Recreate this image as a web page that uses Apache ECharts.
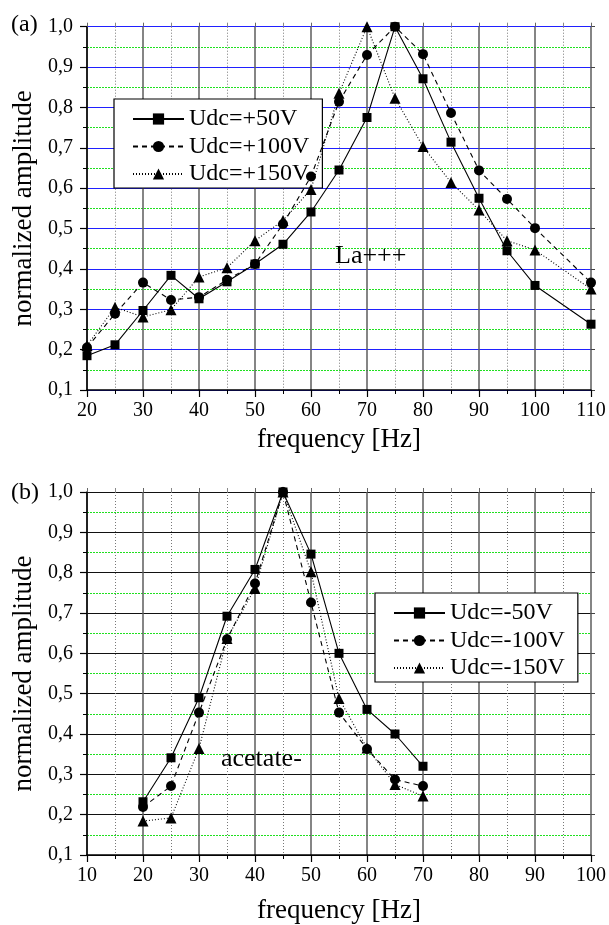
<!DOCTYPE html>
<html><head><meta charset="utf-8">
<script src="https://cdn.jsdelivr.net/npm/echarts@6/dist/echarts.min.js"></script>
<style>html,body{margin:0;padding:0;background:#fff}#c{width:609px;height:925px}</style>
</head><body><div id="c"></div>
<script>
// ---- Data: panel (a) La+++ ----
const freqA = [20,25,30,35,40,45,50,55,60,65,70,75,80,85,90,95,100,110];
const udcP50  = [0.185,0.212,0.297,0.384,0.326,0.368,0.412,0.461,0.541,0.645,0.775,1.0,0.871,0.714,0.575,0.445,0.359,0.263];
const udcP100 = [0.205,0.289,0.366,0.323,0.330,0.373,0.412,0.511,0.629,0.814,0.930,1.0,0.932,0.786,0.644,0.573,0.501,0.366];
const udcP150 = [0.210,0.305,0.281,0.299,0.380,0.403,0.470,0.520,0.597,0.835,1.0,0.823,0.703,0.614,0.546,0.470,0.447,0.350];
// ---- Data: panel (b) acetate- ----
const freqB = [20,25,30,35,40,45,50,55,60,65,70];
const udcM50  = [0.232,0.341,0.490,0.692,0.808,1.0,0.846,0.600,0.461,0.400,0.320];
const udcM100 = [0.219,0.271,0.453,0.635,0.773,1.0,0.726,0.453,0.363,0.287,0.271];
const udcM150 = [0.184,0.192,0.364,0.637,0.761,1.0,0.802,0.488,0.365,0.275,0.246];
const namesA = ['Udc=+50V','Udc=+100V','Udc=+150V'];
const namesB = ['Udc=-50V','Udc=-100V','Udc=-150V'];
const xRangeA = [20,110];
const xRangeB = [10,100];
const yRange = [0.1,1.0];

const FONT = 'Liberation Serif';
const pair = (xs, ys) => xs.map((x,i)=>[x, ys[i]]);
const styles = [
  {symbol:'rect', symbolSize:9, type:'solid'},
  {symbol:'circle', symbolSize:10, type:[5,4]},
  {symbol:'triangle', symbolSize:11, type:[1,2]}
];
function mkSeries(name, xs, ys, k, idx){
  const s = styles[k];
  return {
    name, type:'line', xAxisIndex:idx, yAxisIndex:idx, data:pair(xs,ys),
    symbol:s.symbol, symbolSize:s.symbolSize, showSymbol:true,
    itemStyle:{color:'#000'}, lineStyle:{color:'#000', width:1.1, type:s.type},
    animation:false, z:5
  };
}
function xAxisBottom(idx, range, nameGap){
  return {
    type:'value', gridIndex:idx, position:'bottom', min:range[0], max:range[1], interval:10,
    name:'frequency [Hz]', nameLocation:'middle', nameGap:nameGap,
    nameTextStyle:{fontFamily:FONT, fontSize:27, color:'#000'},
    axisLine:{show:true, onZero:false, lineStyle:{color:'#000', width:1.5}},
    axisTick:{show:true, inside:false, length:7, lineStyle:{color:'#000', width:1.2}},
    minorTick:{show:true, splitNumber:2, length:4, lineStyle:{color:'#000'}},
    axisLabel:{fontFamily:FONT, fontSize:20, color:'#000', margin:11},
    splitLine:{show:true, lineStyle:{color:'#5c5c5c', width:1.5}},
    minorSplitLine:{show:true, lineStyle:{color:'#777', width:1, type:[1,2]}}
  };
}
function xAxisTop(idx, range){
  return {
    type:'value', gridIndex:idx, position:'top', min:range[0], max:range[1], interval:10,
    axisLine:{show:false}, axisLabel:{show:false},
    axisTick:{show:true, inside:false, length:4, lineStyle:{color:'#666'}},
    minorTick:{show:true, splitNumber:2, length:4, lineStyle:{color:'#888'}},
    splitLine:{show:false}
  };
}
function yAxisLeft(idx, majorColor){
  return {
    type:'value', gridIndex:idx, position:'left', min:yRange[0], max:yRange[1], interval:0.1,
    name:'normalized amplitude', nameLocation:'middle', nameGap:47, nameRotate:90,
    nameTextStyle:{fontFamily:FONT, fontSize:27, color:'#000'},
    axisLine:{show:true, onZero:false, lineStyle:{color:'#000', width:1.5}},
    axisTick:{show:true, inside:false, length:7, lineStyle:{color:'#000', width:1.2}},
    minorTick:{show:true, splitNumber:2, length:4, lineStyle:{color:'#000'}},
    axisLabel:{fontFamily:FONT, fontSize:20, color:'#000', margin:14,
      formatter:v=>v.toFixed(1).replace('.',',')},
    splitLine:{show:true, lineStyle:{color:majorColor, width:1.2}},
    minorSplitLine:{show:true, lineStyle:{color:'#1fe01f', width:1, type:[2,1]}}
  };
}
function yAxisRight(idx){
  return {
    type:'value', gridIndex:idx, position:'right', min:yRange[0], max:yRange[1], interval:0.1,
    axisLine:{show:false}, axisLabel:{show:false},
    axisTick:{show:true, inside:false, length:4, lineStyle:{color:'#444'}},
    minorTick:{show:false},
    splitLine:{show:false}
  };
}
function legendOpt(names, left, top){
  return {
    data:names, orient:'vertical', left:left, top:top,
    itemWidth:51, itemHeight:14, itemGap:3.5,
    padding:[8,13,2,18],
    backgroundColor:'#fff', borderColor:'#000', borderWidth:1.2, borderRadius:0,
    textStyle:{fontFamily:FONT, fontSize:24, color:'#000', lineHeight:24},
    inactiveColor:'#000', selectedMode:false
  };
}
const option = {
  animation:false,
  backgroundColor:'#fff',
  grid:[
    {left:87, right:18, top:26.7, bottom:535},
    {left:87, right:18, top:492, bottom:70}
  ],
  xAxis:[xAxisBottom(0,xRangeA,36), xAxisBottom(1,xRangeB,42), xAxisTop(0,xRangeA), xAxisTop(1,xRangeB)],
  yAxis:[yAxisLeft(0,'#2020ff'), yAxisLeft(1,'#111'), yAxisRight(0), yAxisRight(1)],
  legend:[legendOpt(namesA,114,99), legendOpt(namesB,375,593)],
  series:[
    mkSeries(namesA[0], freqA, udcP50, 0, 0),
    mkSeries(namesA[1], freqA, udcP100, 1, 0),
    mkSeries(namesA[2], freqA, udcP150, 2, 0),
    mkSeries(namesB[0], freqB, udcM50, 0, 1),
    mkSeries(namesB[1], freqB, udcM100, 1, 1),
    mkSeries(namesB[2], freqB, udcM150, 2, 1)
  ],
  graphic:[
    {type:'text', left:11, top:13, style:{text:'(a)', font:'24px "Liberation Serif"', fill:'#000'}},
    {type:'text', left:11, top:481, style:{text:'(b)', font:'24px "Liberation Serif"', fill:'#000'}},
    {type:'text', left:335, top:243, z:10, style:{text:'La+++', font:'26px "Liberation Serif"', fill:'#000'}},
    {type:'text', left:221, top:746, z:10, style:{text:'acetate-', font:'26px "Liberation Serif"', fill:'#000'}}
  ]
};
const chart = echarts.init(document.getElementById('c'), null, {renderer:'canvas'});
chart.setOption(option);
</script>
</body></html>
